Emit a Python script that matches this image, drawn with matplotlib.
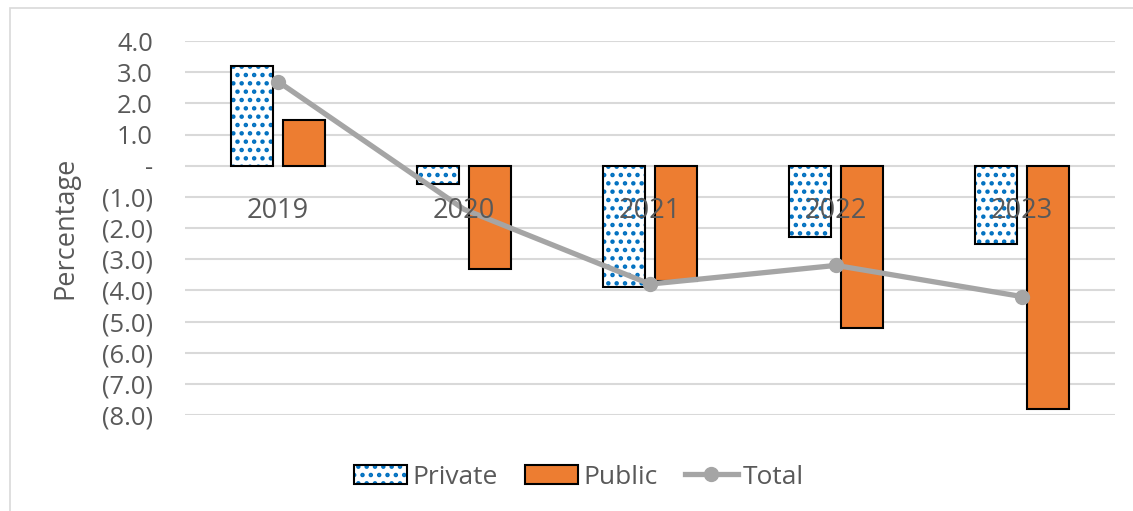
import matplotlib.pyplot as plt
import matplotlib.patches as mpatches
from matplotlib.lines import Line2D
from matplotlib.ticker import FuncFormatter, MultipleLocator
import numpy as np

plt.rcParams.update({
    'font.family': ['Open Sans', 'DejaVu Sans'],
    'hatch.linewidth': 2.0,
})

years = ['2019', '2020', '2021', '2022', '2023']
private = [3.2, -0.6, -3.9, -2.3, -2.5]
public = [1.45, -3.3, -3.7, -5.2, -7.8]
total = [2.7, -1.4, -3.8, -3.2, -4.2]

TEXT = '#595959'
BLUE = '#0070C0'
ORANGE = '#ED7D31'
GREY = '#A5A5A5'
GRID = '#D9D9D9'

fig = plt.figure(figsize=(11.33, 5.11), dpi=100)
ax = fig.add_axes([185 / 1133, 1 - 415 / 511, 930 / 1133, 374 / 511])

# chart area border
fig.patches.append(mpatches.Rectangle((10 / 1133, -0.01), 1.0, 1 - 8 / 511 + 0.01,
                                      transform=fig.transFigure, fill=False,
                                      edgecolor=GRID, linewidth=1.2))

x = np.arange(len(years))
w = 0.226
off = 0.142

# private: confetti-like pattern, then black outline
ax.bar(x - off, private, w, facecolor='white', edgecolor=BLUE, linewidth=0,
       hatch='..', zorder=2)
ax.bar(x - off, private, w, fill=False, edgecolor='black', linewidth=1.5, zorder=2)
ax.bar(x + off, public, w, facecolor=ORANGE, edgecolor='black', linewidth=1.5, zorder=2)
ax.plot(x, total, color=GREY, linewidth=3.8, marker='o', markersize=10,
        markevery=[0, 2, 3, 4], zorder=3, solid_capstyle='round')

for xi, yr in zip(x, years):
    ax.text(xi, -1.45, yr, ha='center', va='center', fontsize=19.5, color=TEXT, zorder=4)

ax.set_xlim(-0.5, len(years) - 0.5)
ax.set_ylim(-8, 4)
ax.yaxis.set_major_locator(MultipleLocator(1))
ax.yaxis.set_major_formatter(FuncFormatter(
    lambda v, p: '-' if abs(v) < 1e-9 else (f'({abs(v):.1f})' if v < 0 else f'{v:.1f}')))
ax.set_xticks([])
ax.tick_params(axis='y', length=0, pad=23, labelsize=18.4, labelcolor=TEXT)
ax.grid(axis='y', color=GRID, linewidth=1.5, zorder=0)
ax.set_axisbelow(True)
for s in ax.spines.values():
    s.set_visible(False)
ax.set_ylabel('Percentage', fontsize=19.5, color=TEXT, labelpad=16)

handles = [
    (mpatches.Patch(facecolor='white', edgecolor=BLUE, hatch='..', linewidth=0),
     mpatches.Patch(fill=False, edgecolor='black', linewidth=1.5)),
    mpatches.Patch(facecolor=ORANGE, edgecolor='black', linewidth=1.5),
    Line2D([0], [0], color=GREY, linewidth=3.8, marker='o', markersize=10),
]
leg = fig.legend(handles, ['Private', 'Public', 'Total'], loc='center',
                 bbox_to_anchor=(579 / 1133, 1 - 477 / 511), ncol=3, frameon=False,
                 fontsize=19, handlelength=2.0, handleheight=0.7, columnspacing=1.05,
                 handletextpad=0.2)
for t in leg.get_texts():
    t.set_color(TEXT)

fig.savefig('out.png', dpi=100)
